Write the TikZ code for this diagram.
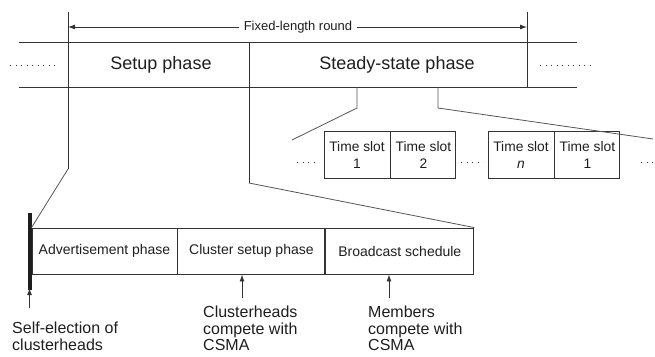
\documentclass[tikz,border=0pt]{standalone}
\usepackage{fontspec}
\setmainfont{Liberation Sans}
\usetikzlibrary{arrows.meta}
\definecolor{lc}{HTML}{333333}
\definecolor{cc}{HTML}{555555}
\definecolor{tc}{HTML}{1E1E1E}
\begin{document}
\begin{tikzpicture}[x=1pt,y=-1pt,
 ln/.style={draw=lc, line width=0.9pt},
 cn/.style={draw=cc, line width=0.8pt},
 box/.style={draw=lc, line width=0.9pt, inner sep=0pt, align=center, text=tc},
 phase/.style={inner sep=0pt, text=tc, font=\fontsize{18}{21}\selectfont},
 slot/.style={box, minimum height=47pt, font=\fontsize{13.8}{17}\selectfont},
 sub/.style={box, minimum height=46pt, font=\fontsize{14}{17}\selectfont},
 dots/.style={draw=lc, line width=0.9pt, dash pattern=on 0.9pt off 4.6pt},
 arr/.style={draw=lc, line width=0.9pt, -{Latex[length=7pt,width=5pt]}},
 lbl/.style={font=\fontsize{16}{16.5}\selectfont, align=left, text=tc, inner sep=0pt, anchor=north west}
]
\useasboundingbox (0,0) rectangle (655,356);

% top band
\coordinate (bandTL) at (19,42);
\coordinate (bandTR) at (577,42);
\coordinate (bandBL) at (19,87);
\coordinate (bandBR) at (577,87);
\draw[ln] (bandTL) -- (bandTR);
\draw[ln] (bandBL) -- (bandBR);

\node[phase] (setup) at (161,65) {Setup phase};
\node[phase] (steady) at (397,65) {Steady-state phase};

% round boundaries
\coordinate (rLtop) at (68,12);
\coordinate (rLbend) at (68,169);
\coordinate (rRtop) at (527,12);
\coordinate (rRbot) at (527,87);
\coordinate (midtop) at (249,42);
\coordinate (midbend) at (249,183);

% fixed length round
\node[inner sep=0pt, text=tc, font=\fontsize{13}{15}\selectfont] (fixed) at (298,27) {Fixed-length round};
\coordinate (fL) at (68,27);
\coordinate (fR) at (527,27);
\draw[arr] ([xshift=-5pt]fixed.west) -- (fL);
\draw[arr] ([xshift=5pt]fixed.east) -- (fR);

% outer dots
\coordinate (d1a) at (10,65); \coordinate (d1b) at (56,65);
\coordinate (d2a) at (540,65); \coordinate (d2b) at (590,65);
\draw[dots] (d1a) -- (d1b);
\draw[dots] (d2a) -- (d2b);

% time slots
\node[slot, minimum width=66pt] (ts1) at (357,154.5) {Time slot\\1};
\node[slot, minimum width=65pt, anchor=west] (ts2) at (ts1.east) {Time slot\\2};
\node[slot, minimum width=66pt] (ts3) at (521,154.5) {Time slot\\\textit{n}};
\node[slot, minimum width=65pt, anchor=west] (ts4) at (ts3.east) {Time slot\\1};
\coordinate (e1a) at (297,162); \coordinate (e1b) at (319,162);
\coordinate (e2a) at (461,162); \coordinate (e2b) at (483,162);
\coordinate (e3a) at (641,162); \coordinate (e3b) at (656,162);
\draw[dots] (e1a) -- (e1b);
\draw[dots] (e2a) -- (e2b);
\draw[dots] (e3a) -- (e3b);

% steady state expansion
\coordinate (s1top) at (357,87); \coordinate (s1bend) at (357,108); \coordinate (s1end) at (292,140);
\coordinate (s2top) at (438,87); \coordinate (s2bend) at (438,108); \coordinate (s2end) at (653,139);
\draw[cn] (s1top) -- (s1bend) -- (s1end);
\draw[cn] (s2top) -- (s2bend) -- (s2end);

% setup sub-phases
\node[sub, minimum width=145pt] (adv) at (104.5,251) {Advertisement phase};
\node[sub, minimum width=147pt, anchor=west] (clu) at (adv.east) {Cluster setup phase};
\node[sub, minimum width=148pt, anchor=west] (bro) at (clu.east) {Broadcast schedule};

% thick bar
\coordinate (barT) at (29.5,213);
\coordinate (barB) at (29.5,290);
\draw[draw=tc, line width=4pt] (barT) -- (barB);

% boundary lines and setup expansion
\draw[ln] (rLtop) -- (rLbend);
\draw[cn] (rLbend) -- (adv.north west);
\draw[ln] (midtop) -- (midbend);
\draw[cn] (midbend) -- (bro.north east);
\draw[ln] (rRtop) -- (rRbot);

% annotations
\coordinate (a1) at (29.5,308);
\draw[arr] (a1) -- ([yshift=2pt]barB);
\node[lbl] (self) at (12,322) {Self-election of\\clusterheads};

\coordinate (a2) at (242,298);
\draw[arr] (a2) -- (a2 |- clu.south);
\node[lbl] (ch) at (203,306) {Clusterheads\\compete with\\CSMA};

\coordinate (a3) at (389,298);
\draw[arr] (a3) -- (a3 |- bro.south);
\node[lbl] (mem) at (368,306) {Members\\compete with\\CSMA};
\end{tikzpicture}
\end{document}
